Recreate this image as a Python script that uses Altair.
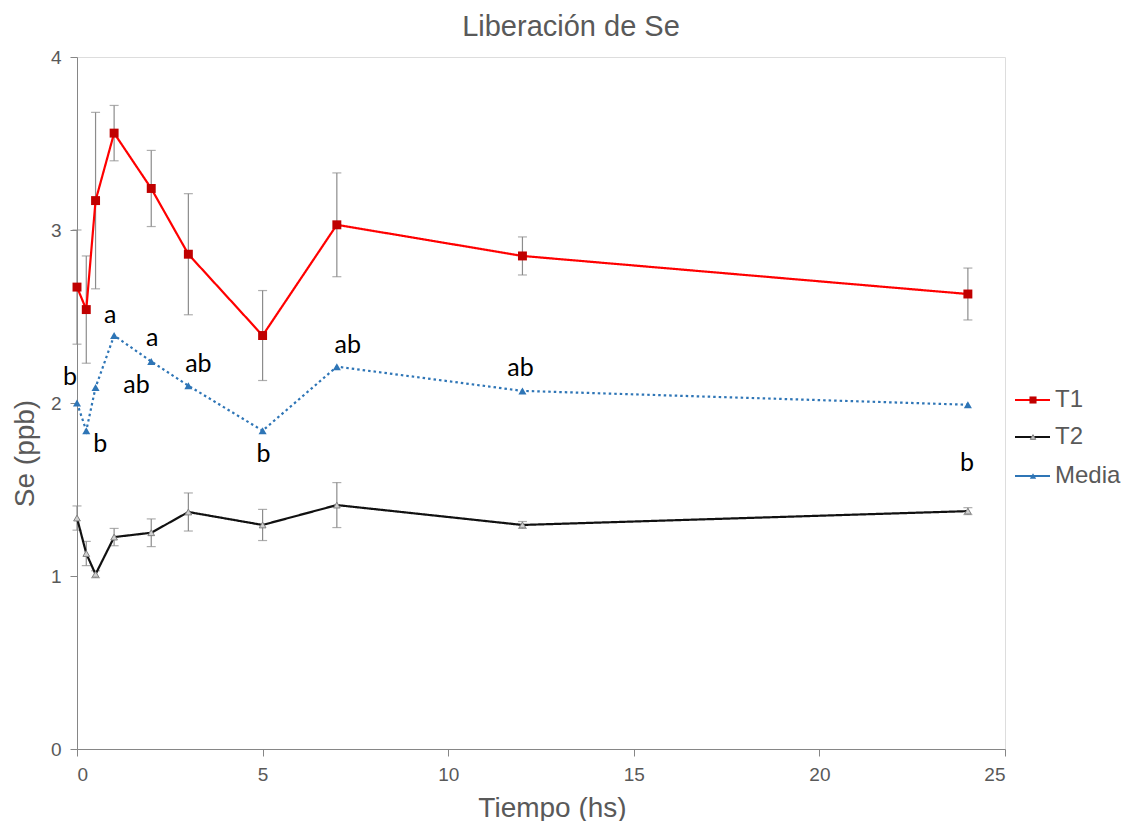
import altair as alt
import pandas as pd

# ---- data ----
tiempo = [0, 0.25, 0.5, 1, 2, 3, 5, 7, 12, 24]
t1 = [2.67, 2.54, 3.17, 3.56, 3.24, 2.86, 2.39, 3.03, 2.85, 2.63]
t1_err = [0.33, 0.31, 0.51, 0.16, 0.22, 0.35, 0.26, 0.30, 0.11, 0.15]
t2 = [1.335, 1.13, 1.01, 1.225, 1.25, 1.37, 1.295, 1.41, 1.295, 1.375]
t2_err = [0.07, 0.07, 0.02, 0.05, 0.08, 0.11, 0.09, 0.13, 0.02, 0.02]
media = [2.00, 1.84, 2.09, 2.39, 2.24, 2.10, 1.84, 2.21, 2.07, 1.99]
letras = ["b", "b", "ab", "a", "a", "ab", "b", "ab", "ab", "b"]
series = ["T1", "T2", "Media"]

rows = []
for i, x in enumerate(tiempo):
    rows.append(dict(serie="T1", x=x, y=t1[i], lo=t1[i] - t1_err[i], hi=t1[i] + t1_err[i], lab=""))
    rows.append(dict(serie="T2", x=x, y=t2[i], lo=t2[i] - t2_err[i], hi=t2[i] + t2_err[i], lab=""))
    rows.append(dict(serie="Media", x=x, y=media[i], lo=None, hi=None, lab=letras[i]))
df = pd.DataFrame(rows)

GREY = "#595959"
FONT = "Liberation Sans"
xs = alt.X("x:Q", scale=alt.Scale(domain=[0, 25], nice=False),
           axis=alt.Axis(values=[0, 5, 10, 15, 20, 25], title="Tiempo (hs)", grid=False,
                         format="d",
                         domainColor="#868686", tickColor="#868686", tickSize=7,
                         labelFont=FONT, labelFontSize=19, labelColor=GREY,
                         labelPadding=9,
                         titleFont=FONT, titleFontSize=28, titleColor=GREY,
                         titleFontWeight="normal", titlePadding=10, titleX=475))
ys = alt.Y("y:Q", scale=alt.Scale(domain=[0, 4], nice=False),
           axis=alt.Axis(values=[0, 1, 2, 3, 4], title="Se (ppb)", grid=False, format="d",
                         domainColor="#868686", tickColor="#868686", tickSize=7,
                         labelFont=FONT, labelFontSize=19, labelColor=GREY,
                         labelPadding=9,
                         titleFont=FONT, titleFontSize=28, titleColor=GREY,
                         titleFontWeight="normal", titleX=-52, titleY=396,
                         titleAlign="center", titleBaseline="middle"))

base = alt.Chart(df)
err = base.transform_filter("datum.serie != 'Media'")

bars = err.mark_rule(color="#8c8c8c", strokeWidth=1.2).encode(
    x="x:Q", y="lo:Q", y2="hi:Q")
cap_lo = err.mark_tick(color="#8c8c8c", thickness=1.2, size=9, orient="horizontal").encode(
    x="x:Q", y="lo:Q")
cap_hi = err.mark_tick(color="#8c8c8c", thickness=1.2, size=9, orient="horizontal").encode(
    x="x:Q", y="hi:Q")

line_colors = ["#ff0000", "#111111", "#2e75b6"]
lines = base.mark_line(strokeWidth=2.2).encode(
    x=xs, y=ys,
    color=alt.Color("serie:N", sort=series,
                    scale=alt.Scale(domain=series, range=line_colors), legend=None),
    strokeDash=alt.StrokeDash("serie:N", sort=series,
                              scale=alt.Scale(domain=series, range=[[1, 0], [1, 0], [2.5, 3]]),
                              legend=None),
)

marker_style = {
    "T1": dict(shape="square", filled=True, opacity=1, size=80, color="#c00000"),
    "T2": dict(shape="triangle-up", filled=True, opacity=1, size=45, fill="#d0d0d0",
               stroke="#808080", strokeWidth=1),
    "Media": dict(shape="triangle-up", filled=True, opacity=1, size=65, color="#2e75b6"),
}
pts = [base.transform_filter(f"datum.serie == '{s}'").mark_point(**marker_style[s])
       .encode(x="x:Q", y="y:Q") for s in series]

# letter annotations for Media, offsets per point (style only)
offsets = {0: (-7, -26), 0.25: (14, 13), 0.5: (41, -2), 1: (-4, -21), 2: (1, -23),
           3: (10, -22), 5: (1, 23), 7: (11, -22), 12: (-2, -23), 24: (-1, 58)}
texts = []
for xv, (dx, dy) in offsets.items():
    texts.append(
        base.transform_filter(f"datum.serie == 'Media' && datum.x == {xv}")
        .mark_text(font="Lato", fontSize=25, color="#000000", dx=dx, dy=dy, baseline="middle")
        .encode(x="x:Q", y="y:Q", text="lab:N")
    )

# hand-made legend (line + marker + label), placed right of the plot
legend_layers = []
leg_y = [343, 380, 419]
leg_marker = {
    "T1": dict(shape="square", filled=True, opacity=1, size=50, color="#c00000"),
    "T2": dict(shape="triangle-up", filled=True, opacity=1, size=30, fill="#bfbfbf",
               stroke="#808080", strokeWidth=1),
    "Media": dict(shape="triangle-up", filled=True, opacity=1, size=40, color="#2e75b6"),
}
for i, s in enumerate(series):
    one = alt.Chart(pd.DataFrame({"serie": [s]}))
    legend_layers.append(one.mark_rule(color=line_colors[i], strokeWidth=2.2).encode(
        x=alt.value(938), x2=alt.value(973), y=alt.value(leg_y[i])))
    legend_layers.append(one.mark_point(**leg_marker[s]).encode(
        x=alt.value(956), y=alt.value(leg_y[i])))
    legend_layers.append(one.mark_text(font=FONT, fontSize=24, color=GREY, align="left",
                                       baseline="middle").encode(
        x=alt.value(978), y=alt.value(leg_y[i]), text="serie:N"))

chart = alt.layer(bars, cap_lo, cap_hi, lines, *pts, *texts, *legend_layers).properties(
    width=928, height=692,
    title=alt.TitleParams("Liberación de Se", font=FONT, fontSize=29,
                          fontWeight="normal", color=GREY, offset=6, dx=30),
    autosize=alt.AutoSizeParams(type="none"),
    padding={"left": 77, "top": 57, "right": 133, "bottom": 72},
).configure_view(stroke="#898989", strokeWidth=1.5).configure(background="white")

chart.save("out.html", embed_options={"renderer": "svg", "actions": False})
